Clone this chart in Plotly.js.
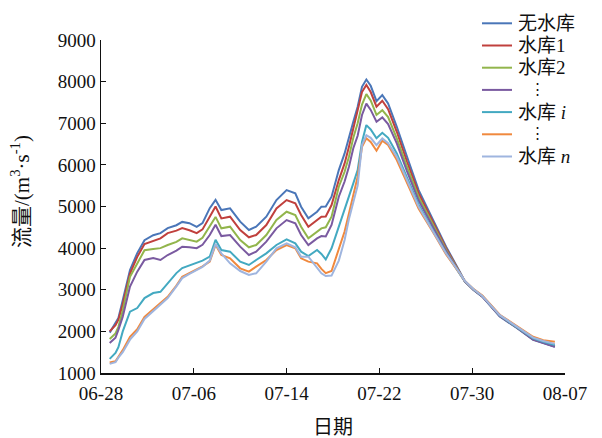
<!DOCTYPE html>
<html>
<head>
<meta charset="utf-8">
<script src="https://cdn.plot.ly/plotly-3.0.1.min.js"></script>
<style>html,body{margin:0;padding:0;background:#fff;}#chart{width:602px;height:438px;}</style>
</head>
<body>
<div id="chart"></div>
<script>
const dates = [
"2020-06-28 18:00","2020-06-29 06:00","2020-06-29 12:00","2020-06-29 21:00","2020-06-30 12:00",
"2020-07-01 03:00","2020-07-01 18:00","2020-07-02 12:00","2020-07-03 03:00","2020-07-03 18:00",
"2020-07-04 12:00","2020-07-05 00:00","2020-07-05 15:00","2020-07-06 06:00","2020-07-06 18:00",
"2020-07-07 09:00","2020-07-07 21:00","2020-07-08 09:00","2020-07-09 03:00","2020-07-10 00:00",
"2020-07-10 18:00","2020-07-11 09:00","2020-07-12 06:00","2020-07-13 03:00","2020-07-14 00:00",
"2020-07-14 18:00","2020-07-15 06:00","2020-07-15 21:00","2020-07-16 15:00","2020-07-17 00:00",
"2020-07-17 09:00","2020-07-17 21:00","2020-07-18 12:00","2020-07-19 00:00","2020-07-19 09:00",
"2020-07-19 18:00","2020-07-20 03:00","2020-07-20 12:00","2020-07-20 21:00","2020-07-21 06:00",
"2020-07-21 18:00","2020-07-22 06:00","2020-07-22 18:00","2020-07-23 12:00","2020-07-24 09:00",
"2020-07-25 09:00","2020-07-26 15:00","2020-07-27 18:00","2020-07-29 00:00","2020-07-29 09:00",
"2020-07-30 03:00","2020-07-30 21:00","2020-08-01 09:00","2020-08-02 21:00","2020-08-04 06:00",
"2020-08-05 03:00","2020-08-06 03:00"];

const noReservoir = [1970,2200,2320,2750,3470,3880,4190,4310,4360,4480,4550,4630,4600,4510,4600,4960,5160,4915,4955,4635,4435,4515,4755,5155,5395,5315,4995,4715,4875,4995,5000,5235,5875,6275,6675,7035,7395,7875,8050,7900,7530,7675,7475,6915,6200,5400,4675,4035,3395,3195,2995,2835,2355,2075,1795,1715,1630];
const reservoir1 = [2000,2150,2280,2650,3390,3790,4100,4180,4235,4360,4420,4480,4430,4360,4450,4755,5000,4715,4755,4435,4260,4315,4555,4955,5155,5075,4795,4515,4675,4755,4760,5035,5635,6035,6435,6900,7300,7750,7920,7750,7400,7540,7340,6795,6080,5320,4620,4000,3380,3200,3000,2840,2370,2090,1810,1730,1640];
const reservoir2 = [1815,1950,2110,2500,3310,3640,3950,3980,4000,4075,4150,4235,4200,4155,4250,4515,4750,4475,4515,4195,4020,4075,4315,4675,4875,4795,4515,4235,4395,4475,4500,4755,5475,5835,6195,6650,7000,7450,7700,7550,7200,7315,7150,6635,5960,5230,4560,3960,3370,3200,3005,2845,2380,2100,1830,1750,1670];
const reservoirMid1 = [1720,1850,2035,2350,3075,3435,3715,3760,3715,3835,3940,4035,4020,4000,4080,4315,4560,4290,4315,4035,3835,3915,4155,4475,4675,4595,4315,4075,4235,4290,4280,4555,5235,5600,5955,6400,6700,7200,7470,7320,7035,7140,6980,6515,5850,5150,4500,3930,3360,3195,2995,2835,2370,2090,1810,1720,1630];
const reservoirI = [1340,1480,1620,2000,2475,2560,2800,2920,2950,3160,3400,3520,3580,3640,3700,3795,4200,3955,3915,3675,3595,3715,3875,4075,4210,4115,3915,3810,3955,3860,3730,3995,4515,4875,5235,5555,5875,6550,6955,6850,6640,6770,6650,6275,5700,5050,4420,3880,3350,3200,3000,2845,2380,2100,1830,1750,1670];
const reservoirMid2 = [1250,1280,1390,1550,1870,2050,2350,2520,2680,2830,3100,3310,3400,3475,3560,3675,4080,3835,3755,3515,3435,3555,3715,3955,4075,3995,3755,3675,3635,3500,3400,3450,3975,4400,4835,5250,5715,6435,6640,6550,6340,6580,6480,6115,5560,4950,4380,3850,3360,3210,3015,2860,2400,2130,1870,1790,1750];
const reservoirN = [1220,1260,1370,1500,1800,2000,2300,2480,2650,2800,3080,3280,3380,3470,3550,3700,4100,3875,3635,3450,3355,3395,3675,3995,4115,4020,3795,3795,3515,3395,3330,3340,3700,4195,4700,5075,5500,6475,6715,6650,6475,6635,6520,6195,5630,5000,4400,3870,3370,3210,3010,2850,2390,2110,1850,1770,1700];

const seriesNames = ["无水库","水库1","水库2","⋮","水库 <i>i</i>","⋮","水库 <i>n</i>"];
const seriesValues = [noReservoir, reservoir1, reservoir2, reservoirMid1, reservoirI, reservoirMid2, reservoirN];
const seriesColors = ["#4a76b8","#c0403d","#92b54c","#7a5aa0","#43a9c1","#f0893e","#9fb5df"];

const xTickVals = ["2020-06-28","2020-07-06","2020-07-14","2020-07-22","2020-07-30","2020-08-07"];
const xTickText = ["06-28","07-06","07-14","07-22","07-30","08-07"];
const yTickVals = [1000,2000,3000,4000,5000,6000,7000,8000,9000];

const FONT = "'Liberation Serif', 'Noto Sans CJK SC', serif";
const W = 602, H = 438, ML = 101, MR = 37, MT = 40, MB = 65;
const PW = W - ML - MR, PH = H - MT - MB;
const px = x => (x - ML) / PW;          // page pixel -> paper x
const py = y => (H - MB - y) / PH;      // page pixel -> paper y

const traces = seriesValues.map((v, i) => ({
  type: "scatter", mode: "lines", x: dates, y: v, name: seriesNames[i],
  line: {color: seriesColors[i], width: 2}, showlegend: false
}));

// hand-placed legend (line sample + label per series)
const shapes = [], annotations = [];
seriesNames.forEach((name, i) => {
  const yc = 23.3 + i * 22.2;
  shapes.push({type: "line", xref: "paper", yref: "paper",
    x0: px(482), x1: px(512), y0: py(yc), y1: py(yc),
    line: {color: seriesColors[i], width: 2}});
  const isDots = name === "⋮";
  annotations.push({xref: "paper", yref: "paper", showarrow: false,
    x: isDots ? px(537) : px(516), y: py(yc + (isDots ? -1 : 0)),
    xanchor: isDots ? "center" : "left", yanchor: "middle",
    text: name, font: {family: FONT, size: isDots ? 15 : 19, color: "#111"}});
});
annotations.push({xref: "paper", yref: "paper", showarrow: false,
  x: px(20), y: py(192), xanchor: "center", yanchor: "middle", textangle: -90,
  text: "流量/(m<sup>3</sup>·s<sup>-1</sup>)", font: {family: FONT, size: 21, color: "#111"}});

const layout = {
  width: W, height: H,
  margin: {l: ML, r: MR, t: MT, b: MB},
  paper_bgcolor: "#fff", plot_bgcolor: "#fff",
  font: {family: FONT, size: 19, color: "#111"},
  showlegend: false,
  shapes: shapes, annotations: annotations,
  xaxis: {
    type: "date", range: ["2020-06-28", "2020-08-07"],
    tickmode: "array", tickvals: xTickVals, ticktext: xTickText,
    ticks: "inside", ticklen: 5, tickcolor: "#111", tickwidth: 1.2,
    showline: true, linecolor: "#111", linewidth: 1.5, mirror: false,
    showgrid: false, zeroline: false, ticklabelstandoff: 3,
    tickfont: {family: FONT, size: 19, color: "#111"},
    title: {text: "日期", font: {family: FONT, size: 20, color: "#111"}, standoff: 18}
  },
  yaxis: {
    range: [1000, 9000], tickmode: "array", tickvals: yTickVals,
    ticks: "inside", ticklen: 5, tickcolor: "#111", tickwidth: 1.2,
    showline: true, linecolor: "#111", linewidth: 1.5, mirror: false,
    showgrid: false, zeroline: false,
    tickfont: {family: FONT, size: 19, color: "#111"}
  }
};

Plotly.newPlot("chart", traces, layout, {displayModeBar: false, staticPlot: true});
</script>
</body>
</html>
